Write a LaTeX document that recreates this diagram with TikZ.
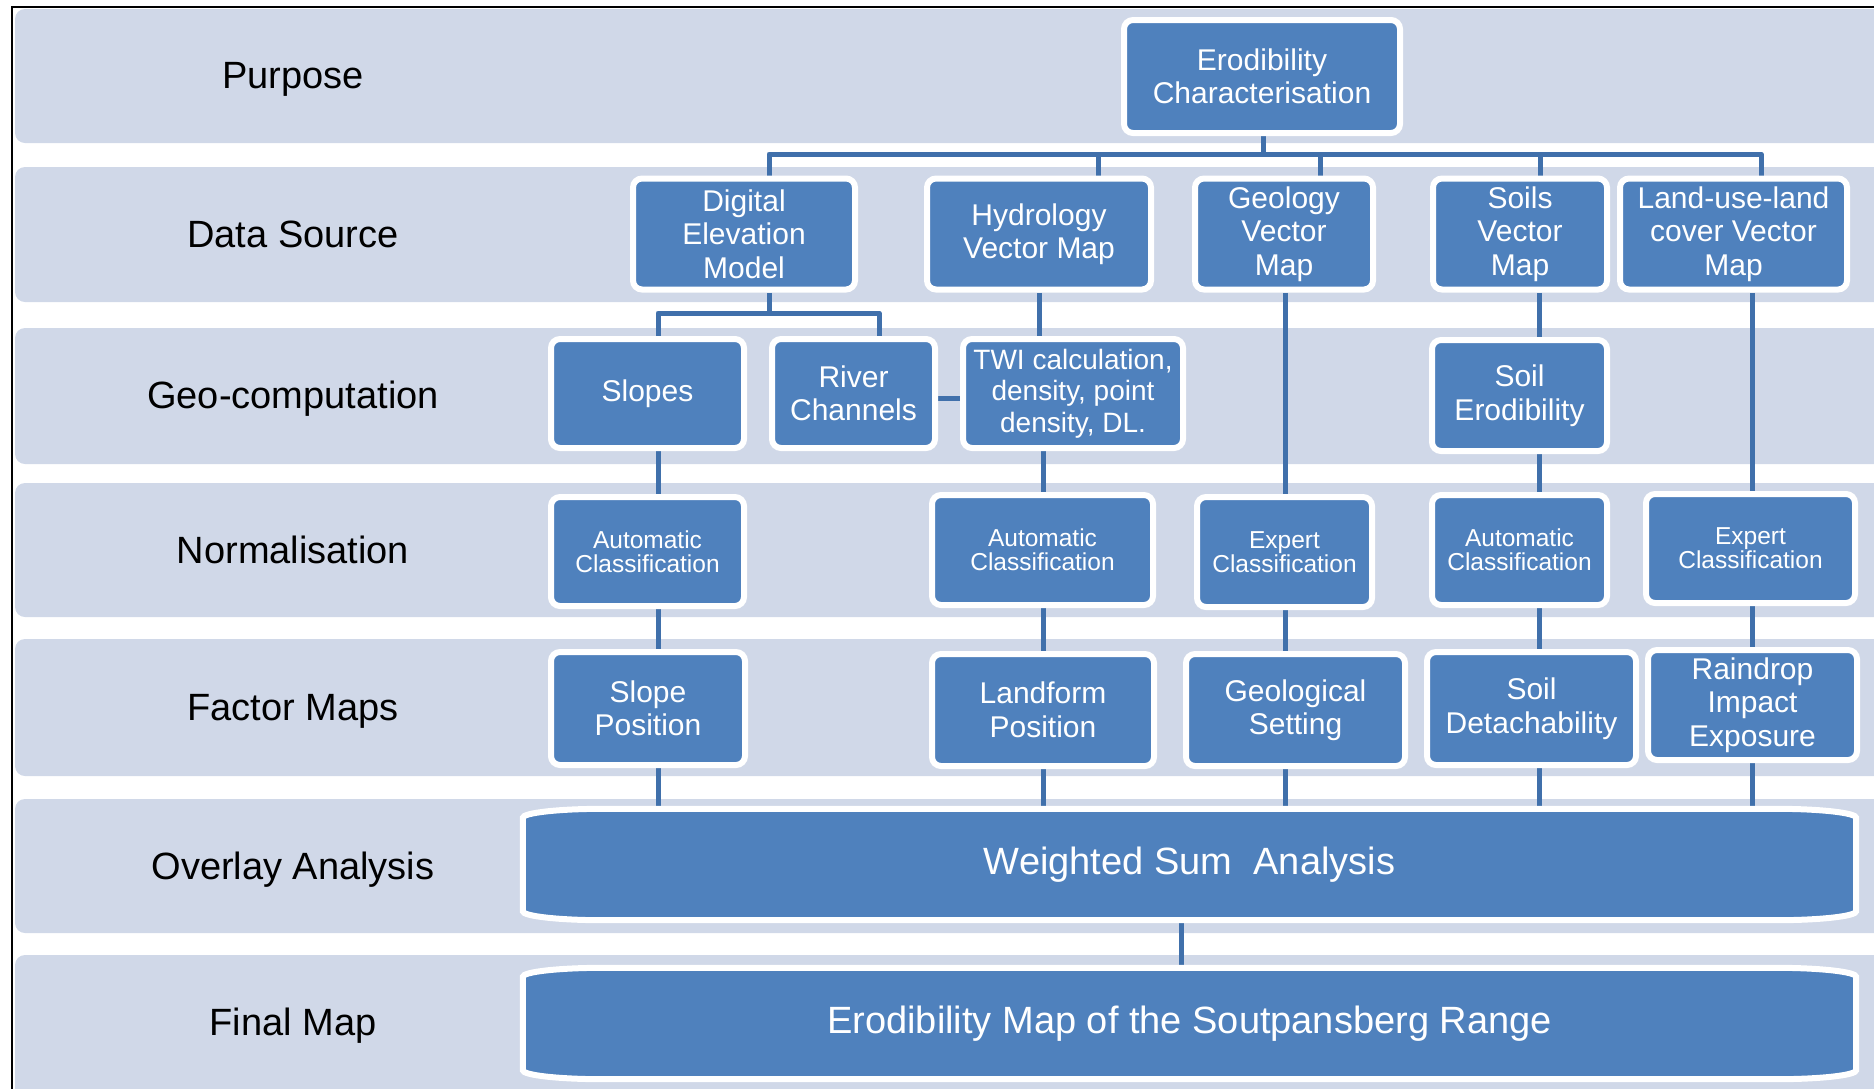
\documentclass[tikz,border=0pt]{standalone}
\usepackage{fontspec}
\setmainfont{Liberation Sans}
\usetikzlibrary{calc}
\definecolor{bandcol}{HTML}{D0D8E8}
\definecolor{boxblue}{HTML}{4F81BD}
\definecolor{conncol}{HTML}{4070AB}
\pgfdeclarelayer{back}\pgfdeclarelayer{mid}\pgfdeclarelayer{shapes}
\pgfsetlayers{back,mid,shapes,main}
\tikzset{
 band/.style={fill=bandcol, rounded corners=10},
 rowlabel/.style={anchor=base, font=\fontsize{38}{42}\selectfont, text=black},
 bx/.style={rectangle, rounded corners=9, fill=boxblue, draw=white, line width=6, inner sep=0, align=center, text=white, font=\fontsize{30}{33.5}\selectfont},
 nbx/.style={bx, font=\fontsize{24.5}{24}\selectfont},
 conn/.style={draw=conncol, line width=5, line join=round},
 wide/.style={rectangle, inner sep=0, text=white, font=\fontsize{38}{42}\selectfont, minimum width=1333, minimum height=111},
 flat/.style={draw=white, line width=6, fill=boxblue},
}
\newcommand{\flatbox}[1]{%
 \draw[flat]
  ($(#1.north west)+(0,9)$) .. controls ($(#1.north west)+(0,4)$) and ($(#1.north west)+(36,0)$) .. ($(#1.north west)+(80,0)$)
  -- ($(#1.north east)+(-80,0)$) .. controls ($(#1.north east)+(-36,0)$) and ($(#1.north east)+(0,4)$) .. ($(#1.north east)+(0,9)$)
  -- ($(#1.south east)+(0,-9)$) .. controls ($(#1.south east)+(0,-4)$) and ($(#1.south east)+(-36,0)$) .. ($(#1.south east)+(-80,0)$)
  -- ($(#1.south west)+(80,0)$) .. controls ($(#1.south west)+(36,0)$) and ($(#1.south west)+(0,-4)$) .. ($(#1.south west)+(0,-9)$)
  -- cycle;}
\begin{document}
\begin{tikzpicture}[x=1pt,y=-1pt]
\useasboundingbox (0,0) rectangle (1874,1088);
% frame
\draw[black, line width=2] (11.5,1090) -- (11.5,7) -- (1880,7);
% row labels
\node[rowlabel] (l1) at (293,88.5) {Purpose};
\node[rowlabel] (l2) at (293,247.5) {Data Source};
\node[rowlabel] (l3) at (293,408) {Geo-computation};
\node[rowlabel] (l4) at (293,563) {Normalisation};
\node[rowlabel] (l5) at (293,720.5) {Factor Maps};
\node[rowlabel] (l6) at (293,879) {Overlay Analysis};
\node[rowlabel] (l7) at (293,1035) {Final Map};
% purpose
\node[bx, minimum width=276, minimum height=113] (ec) at (1262,76.5) {Erodibility\\Characterisation};
% data source
\node[bx, minimum width=222, minimum height=111] (dem) at (744,234) {Digital\\Elevation\\Model};
\node[bx, minimum width=224, minimum height=111] (hyd) at (1039,234) {Hydrology\\Vector Map};
\node[bx, minimum width=178, minimum height=111] (geo) at (1284,234) {Geology\\Vector\\Map};
\node[bx, minimum width=174, minimum height=111] (soils) at (1520,234) {Soils\\Vector\\Map};
\node[bx, minimum width=227, minimum height=111] (lu) at (1733.5,234) {Land-use-land\\cover Vector\\Map};
% geo-computation
\node[bx, minimum width=193, minimum height=109] (slopes) at (647.5,393.5) {Slopes};
\node[bx, minimum width=163, minimum height=109] (river) at (853.5,393.5) {River\\Channels};
\node[bx, minimum width=220, minimum height=109, font=\fontsize{28}{31.5}\selectfont] (twi) at (1073,393.5) {TWI calculation,\\density, point\\density, DL.};
\node[bx, minimum width=175, minimum height=111] (se) at (1519.5,395.5) {Soil\\Erodibility};
% normalisation
\node[nbx, minimum width=193, minimum height=109] (ac1) at (647.5,551.5) {Automatic\\Classification};
\node[nbx, minimum width=221, minimum height=110] (ac2) at (1042.5,550) {Automatic\\Classification};
\node[nbx, minimum width=175, minimum height=110] (ex1) at (1284.5,552) {Expert\\Classification};
\node[nbx, minimum width=175, minimum height=110] (ac3) at (1519.5,550) {Automatic\\Classification};
\node[nbx, minimum width=209, minimum height=109] (ex2) at (1750.5,548.5) {Expert\\Classification};
% factor maps
\node[bx, minimum width=194, minimum height=113] (sp) at (648,708.5) {Slope\\Position};
\node[bx, minimum width=222, minimum height=112] (lp) at (1043,710) {Landform\\Position};
\node[bx, minimum width=219, minimum height=112] (gs) at (1295.5,710) {Geological\\Setting};
\node[bx, minimum width=209, minimum height=113] (sd) at (1531.5,708.5) {Soil\\Detachability};
\node[bx, minimum width=209, minimum height=110] (ri) at (1752.5,705) {Raindrop\\Impact\\Exposure};
% overlay and final
\node[wide] (wsa) at (1189.5,864.5) {Weighted Sum\ \ Analysis};
\node[wide] (fin) at (1189.5,1023.5) {Erodibility Map of the Soutpansberg Range};

\begin{pgfonlayer}{shapes}
\flatbox{wsa}
\flatbox{fin}
\end{pgfonlayer}

\begin{pgfonlayer}{back}
\fill[band] (15,9) rectangle (1900,143);
\fill[band] (15,167) rectangle (1900,302);
\fill[band] (15,328) rectangle (1900,464);
\fill[band] (15,483) rectangle (1900,617);
\fill[band] (15,639) rectangle (1900,776);
\fill[band] (15,799) rectangle (1900,933);
\fill[band] (15,955) rectangle (1900,1110);
\end{pgfonlayer}

\begin{pgfonlayer}{mid}
\coordinate (j0) at (1263,154);
\coordinate (j1) at (769,154);
\coordinate (j2) at (1098,154);
\coordinate (j3) at (1320,154);
\coordinate (j4) at (1540,154);
\coordinate (j5) at (1761,154);
\coordinate (k0) at (769,313);
\coordinate (k1) at (658,313);
\coordinate (k2) at (879,313);
\coordinate (cA) at (658,0);
\coordinate (cB) at (1043,0);
\coordinate (cC) at (1285,0);
\coordinate (cD) at (1539,0);
\coordinate (cE) at (1752,0);
\coordinate (cF) at (1181,0);
\draw[conn] (ec.south -| j0) -- (j0);
\draw[conn] (dem.north -| j1) -- (j1) -- (j5) -- (lu.north -| j5);
\draw[conn] (j2) -- (hyd.north -| j2);
\draw[conn] (j3) -- (geo.north -| j3);
\draw[conn] (j4) -- (soils.north -| j4);
\draw[conn] (dem.south -| k0) -- (k0);
\draw[conn] (slopes.north -| k1) -- (k1) -- (k2) -- (river.north -| k2);
\draw[conn] ($(river.east)+(0,5)$) -- ($(twi.west)+(0,5)$);
\draw[conn] (hyd.south) -- (hyd.south |- twi.north);
\draw[conn] (soils.south -| cD) -- (se.north -| cD);
% geo -> normalisation
\draw[conn] (slopes.south -| cA) -- (ac1.north -| cA);
\draw[conn] (twi.south -| cB) -- (ac2.north -| cB);
\draw[conn] (geo.south -| cC) -- (ex1.north -| cC);
\draw[conn] (se.south -| cD) -- (ac3.north -| cD);
\draw[conn] (lu.south -| cE) -- (ex2.north -| cE);
% normalisation -> factor
\draw[conn] (ac1.south -| cA) -- (sp.north -| cA);
\draw[conn] (ac2.south -| cB) -- (lp.north -| cB);
\draw[conn] (ex1.south -| cC) -- (gs.north -| cC);
\draw[conn] (ac3.south -| cD) -- (sd.north -| cD);
\draw[conn] (ex2.south -| cE) -- (ri.north -| cE);
% factor -> overlay
\draw[conn] (sp.south -| cA) -- (wsa.north -| cA);
\draw[conn] (lp.south -| cB) -- (wsa.north -| cB);
\draw[conn] (gs.south -| cC) -- (wsa.north -| cC);
\draw[conn] (sd.south -| cD) -- (wsa.north -| cD);
\draw[conn] (ri.south -| cE) -- (wsa.north -| cE);
% overlay -> final
\draw[conn] (wsa.south -| cF) -- (fin.north -| cF);
\end{pgfonlayer}
\end{tikzpicture}
\end{document}
